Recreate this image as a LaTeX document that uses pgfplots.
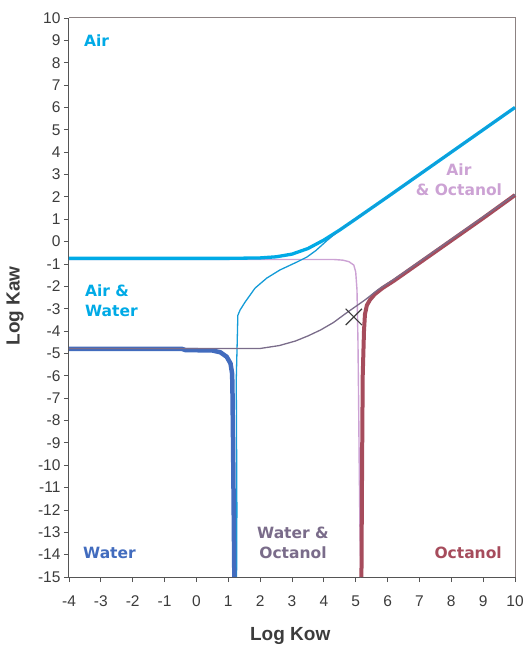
\documentclass[border=0pt]{standalone}
\usepackage{pgfplots}
\pgfplotsset{compat=1.18}
\usepackage{fontspec}
\setmainfont{Liberation Sans}
\newfontfamily\labfont{DejaVu Sans}
\definecolor{cAir}{RGB}{0,170,230}
\definecolor{cAW}{RGB}{20,155,215}
\definecolor{cWater}{RGB}{66,108,190}
\definecolor{cWO}{RGB}{122,108,138}
\definecolor{cAO}{RGB}{204,162,212}
\definecolor{cOct}{RGB}{166,76,92}
\definecolor{axgray}{RGB}{85,85,85}
\definecolor{framegray}{RGB}{140,130,130}
\definecolor{tickgray}{RGB}{60,60,60}
\begin{document}
\begin{tikzpicture}
\begin{axis}[
  scale only axis, width=446bp, height=559bp,
  xmin=-4, xmax=10, ymin=-15, ymax=10,
  xtick={-4,-3,...,10}, ytick={-15,-14,...,10},
  axis x line*=bottom, axis y line*=left,
  axis line style={draw=axgray, line width=1bp},
  tick align=outside, major tick length=5bp,
  tick style={draw=axgray, line width=0.8bp},
  ticklabel style={font=\fontsize{15.5bp}{18bp}\selectfont, text=tickgray},
  /pgf/number format/assume math mode=true,
  xticklabel style={yshift=-10bp},
  clip=false,
]
\coordinate (SW) at (rel axis cs:0,0);
\coordinate (NE) at (rel axis cs:1,1);
\draw[framegray, line width=1bp] (rel axis cs:0,1) -- (rel axis cs:1,1) -- (rel axis cs:1,0);
% Air & Octanol
\addplot[cAO, line width=1.4bp] coordinates {
 (-4,-0.80) (4.30,-0.80) (4.60,-0.83) (4.79,-0.90) (4.94,-1.05) (5.00,-1.36)
 (5.04,-2.16) (5.07,-4.40) (5.09,-7.0) (5.11,-10.0) (5.13,-12.5) (5.16,-15)};
% Air
\addplot[cAir, line width=3.3bp] coordinates {
 (-4,-0.75) (1,-0.75) (2,-0.73) (2.5,-0.68) (3,-0.56) (3.5,-0.31) (4,0.07)
 (4.5,0.52) (5,1.01) (6,2.0) (7,3.0) (8,4.0) (9,5.0) (10,6.0)};
% Air & Water
\addplot[cAW, line width=1.3bp] coordinates {
 (1.26,-15) (1.27,-12) (1.26,-9) (1.25,-6.2) (1.28,-4.5) (1.30,-3.30)
 (1.37,-3.06) (1.53,-2.70) (1.84,-2.08) (2.21,-1.63) (2.62,-1.27) (3.16,-0.91)
 (3.47,-0.69) (3.75,-0.40) (4.1,0.05) (4.5,0.52) (5,1.01) (6,2.0) (8,4.0) (10,6.0)};
% Water
\addplot[cWater, line width=4.5bp] coordinates {
 (-4,-4.80) (-0.45,-4.80) (-0.35,-4.85) (0.50,-4.87) (0.75,-4.95) (0.95,-5.15)
 (1.07,-5.45) (1.12,-5.90) (1.13,-6.5) (1.15,-9) (1.17,-12) (1.19,-15)};
% Octanol
\addplot[cOct, line width=4bp] coordinates {
 (5.18,-15) (5.20,-10) (5.22,-6) (5.26,-4) (5.29,-3.25) (5.35,-2.85) (5.45,-2.60)
 (5.60,-2.35) (5.85,-2.07) (6.2,-1.75) (7,-0.95) (8,0.05) (9,1.05) (10,2.08)};
% Water & Octanol
\addplot[cWO, line width=1.3bp] coordinates {
 (-4,-4.78) (2.0,-4.78) (2.6,-4.65) (3.1,-4.45) (3.5,-4.22) (3.9,-3.95) (4.3,-3.62)
 (4.7,-3.20) (5.0,-2.90) (5.3,-2.60) (5.7,-2.15) (6.0,-1.88) (6.5,-1.40) (7,-0.90)
 (8,0.10) (9,1.10) (10,2.10)};
% cross
\addplot[only marks, mark=x, mark size=11.5bp, mark options={draw=tickgray, line width=1.1bp}] coordinates {(4.94,-3.37)};
% region labels
\node[anchor=west, inner sep=0, text=cAir, font=\labfont\bfseries\fontsize{15.5bp}{20bp}\selectfont] at (axis cs:-3.53,8.97) {Air};
\node[anchor=west, inner sep=0, align=left, text=cAir, font=\labfont\bfseries\fontsize{15.5bp}{20bp}\selectfont] at (axis cs:-3.50,-2.63) {Air \&\\Water};
\node[anchor=west, inner sep=0, text=cWater, font=\labfont\bfseries\fontsize{15.5bp}{20bp}\selectfont] at (axis cs:-3.56,-13.93) {Water};
\node[inner sep=0, align=center, text=cWO, font=\labfont\bfseries\fontsize{15.5bp}{20bp}\selectfont] at (axis cs:3.03,-13.48) {Water \&\\Octanol};
\node[anchor=east, inner sep=0, text=cOct, font=\labfont\bfseries\fontsize{15.5bp}{20bp}\selectfont] at (axis cs:9.59,-13.93) {Octanol};
\node[inner sep=0, align=center, text=cAO, font=\labfont\bfseries\fontsize{15.5bp}{20bp}\selectfont] at (axis cs:8.24,2.76) {Air\\\& Octanol};
% axis titles
\node[rotate=90, text=tickgray, font=\bfseries\fontsize{19bp}{22bp}\selectfont] at (axis description cs:-0.121,0.485) {Log Kaw};
\node[text=tickgray, font=\bfseries\fontsize{19bp}{22bp}\selectfont] at (axis description cs:0.496,-0.106) {Log Kow};
\end{axis}
\pgfresetboundingbox
\path[use as bounding box] ([shift={(-69bp,-69bp)}]SW) rectangle ([shift={(10bp,18bp)}]NE);
\end{tikzpicture}
\end{document}
